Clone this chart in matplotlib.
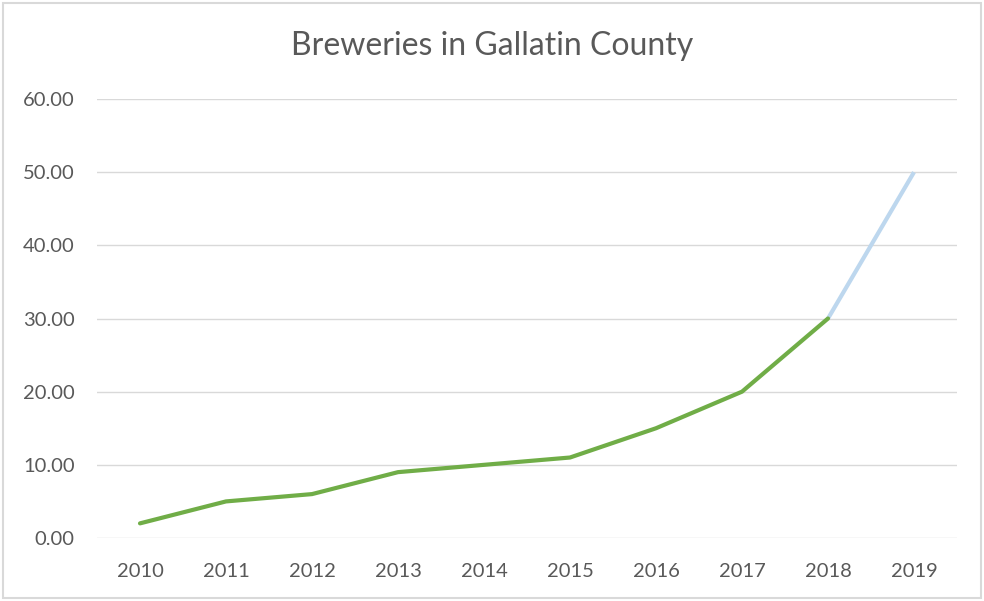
import matplotlib
matplotlib.use('Agg')
import matplotlib.pyplot as plt
from matplotlib.patches import Rectangle

years = ['2010', '2011', '2012', '2013', '2014', '2015', '2016', '2017', '2018', '2019']
breweries = [2, 5, 6, 9, 10, 11, 15, 20, 30, 50]
y_ticks = [0, 10, 20, 30, 40, 50, 60]

plt.rcParams['font.family'] = ['Lato', 'DejaVu Sans']
text_color = '#595959'

fig = plt.figure(figsize=(9.84, 6.01), dpi=100)
ax = fig.add_axes([97 / 984, 1 - 538 / 601, (957 - 97) / 984, (538 - 99) / 601])

x = list(range(len(years)))
# actual values in green, the last (projected) segment in light blue
ax.plot(x[:9], breweries[:9], color='#70AD47', lw=3, solid_capstyle='round', zorder=3)
ax.plot(x[8:], breweries[8:], color='#BDD7EE', lw=3, solid_capstyle='butt', zorder=2)

ax.set_xlim(-0.5, len(years) - 0.5)
ax.set_ylim(0, 60)
ax.set_xticks(x)
ax.set_xticklabels(years)
ax.set_yticks(y_ticks)
ax.set_yticklabels(['%.2f' % v for v in y_ticks])
ax.grid(axis='y', color='#D9D9D9', lw=1)
ax.set_axisbelow(True)
for s in ax.spines.values():
    s.set_visible(False)
ax.tick_params(length=0, labelsize=14.5, labelcolor=text_color)
ax.tick_params(axis='x', pad=18)
ax.tick_params(axis='y', pad=16)

fig.text(0.5, 1 - 46 / 601, 'Breweries in Gallatin County', ha='center', va='center',
         fontsize=23, color=text_color)

# light frame around the chart
fig.patches.append(Rectangle((3 / 984, 3 / 601), 978 / 984, 595 / 601, transform=fig.transFigure,
                             fill=False, edgecolor='#D9D9D9', lw=1.5))

fig.savefig('out.png', dpi=100)
